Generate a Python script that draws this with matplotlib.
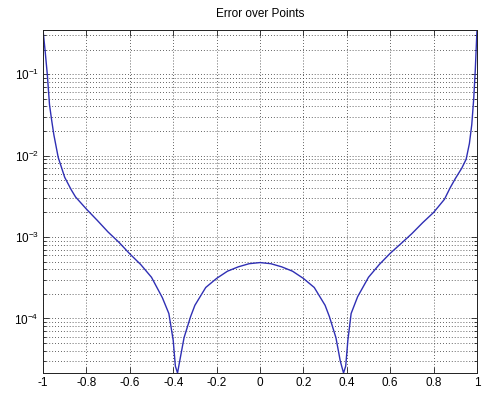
import numpy as np
import matplotlib
matplotlib.use("Agg")
import matplotlib.pyplot as plt
from matplotlib.ticker import LogLocator, FixedLocator, LogFormatterMathtext, NullFormatter

plt.rcParams['font.family'] = ['Liberation Sans', 'DejaVu Sans']
plt.rcParams['mathtext.fontset'] = 'custom'
plt.rcParams['mathtext.rm'] = 'Liberation Sans'
plt.rcParams['mathtext.it'] = 'Liberation Sans'
plt.rcParams['mathtext.default'] = 'regular'

# sample points and absolute error at each
x_pts = [-1.0, -0.99, -0.98, -0.97, -0.96, -0.95, -0.93, -0.90, -0.87, -0.85,
         -0.80, -0.75, -0.70, -0.65, -0.60, -0.55, -0.50, -0.45, -0.42, -0.40,
         -0.39, -0.38, -0.37, -0.35, -0.32, -0.30, -0.25, -0.20, -0.15, -0.10,
         -0.05, 0.0,
         0.05, 0.10, 0.15, 0.20, 0.25, 0.30, 0.32, 0.35, 0.37, 0.385,
         0.395, 0.405, 0.42, 0.45, 0.50, 0.55, 0.60, 0.65, 0.70, 0.75,
         0.80, 0.85, 0.876, 0.90, 0.93, 0.95, 0.965, 0.976, 0.985, 0.992, 1.0]
err = [0.35, 0.19, 0.098, 0.042, 0.027, 0.018, 9.5e-3, 5.4e-3, 3.8e-3, 3.1e-3,
       2.2e-3, 1.6e-3, 1.15e-3, 8.6e-4, 6.2e-4, 4.6e-4, 3.2e-4, 1.8e-4, 1.15e-4, 5.4e-5,
       2.6e-5, 2.14e-5, 3.0e-5, 5.8e-5, 1.05e-4, 1.45e-4, 2.4e-4, 3.1e-4, 3.8e-4, 4.3e-4,
       4.7e-4, 4.85e-4,
       4.7e-4, 4.3e-4, 3.8e-4, 3.1e-4, 2.4e-4, 1.45e-4, 1.05e-4, 5.8e-5, 3.0e-5, 2.14e-5,
       2.6e-5, 5.4e-5, 1.15e-4, 1.85e-4, 3.2e-4, 4.6e-4, 6.3e-4, 8.3e-4, 1.1e-3, 1.5e-3,
       2.0e-3, 2.9e-3, 4.0e-3, 5.2e-3, 7.0e-3, 9.0e-3, 0.014, 0.024, 0.05, 0.11, 0.35]

x_ticks = [-1, -0.8, -0.6, -0.4, -0.2, 0, 0.2, 0.4, 0.6, 0.8, 1]
x_labels = ['-1', '-0.8', '-0.6', '-0.4', '-0.2', '0', '0.2', '0.4', '0.6', '0.8', '1']

fig = plt.figure(figsize=(4.82, 3.94), dpi=100)
ax = fig.add_axes([0.0892, 0.0533, 0.9004, 0.8713])

ax.semilogy(x_pts, err, color='#2f2fb4', linewidth=1.0)
ax.set_xlim(-1, 1)
ax.set_ylim(min(err), max(err))

ax.xaxis.set_major_locator(FixedLocator(x_ticks))
ax.set_xticklabels(x_labels)
ax.yaxis.set_major_locator(LogLocator(base=10, numticks=10))
ax.yaxis.set_major_formatter(LogFormatterMathtext())
ax.yaxis.set_minor_locator(LogLocator(base=10, subs=np.arange(2, 10), numticks=20))
ax.yaxis.set_minor_formatter(NullFormatter())

grid_style = dict(color='#303030', linestyle=(0, (1, 2.5)), linewidth=0.6)
ax.grid(True, which='major', axis='both', **grid_style)
ax.grid(True, which='minor', axis='y', **grid_style)

ax.tick_params(which='both', direction='in', top=True, right=True, labelsize=8.5,
               width=0.6, color='#202020', pad=3)
ax.tick_params(which='major', length=4)
ax.tick_params(which='minor', length=2)
for s in ax.spines.values():
    s.set_linewidth(0.7)
    s.set_color('#202020')

ax.set_title('Error over Points', fontsize=8.5, pad=9)

fig.savefig('out.png', dpi=100)
